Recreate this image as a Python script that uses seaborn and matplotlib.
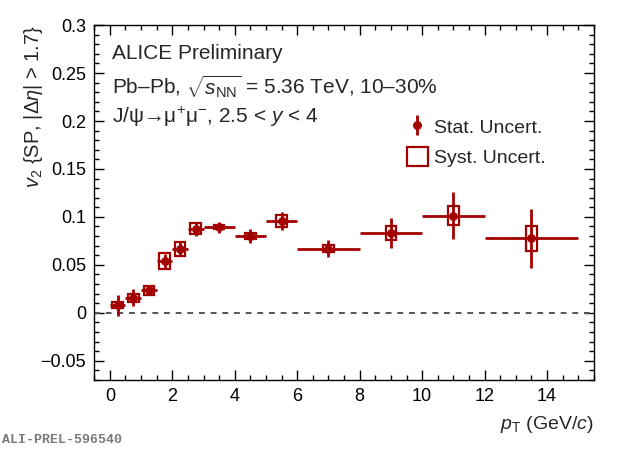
import numpy as np
import pandas as pd
import matplotlib
matplotlib.use("Agg")
import matplotlib.pyplot as plt
import seaborn as sns
from matplotlib.lines import Line2D
from matplotlib.patches import Patch
from matplotlib.legend_handler import HandlerTuple
from matplotlib.ticker import MultipleLocator

# ---- data ----
pt_center = [0.25, 0.75, 1.25, 1.75, 2.25, 2.75, 3.5, 4.5, 5.5, 7.0, 9.0, 11.0, 13.5]
pt_halfwidth = [0.25, 0.25, 0.25, 0.25, 0.25, 0.25, 0.5, 0.5, 0.5, 1.0, 1.0, 1.0, 1.5]
v2 = [0.0077, 0.0157, 0.0234, 0.054, 0.0664, 0.0877, 0.0894, 0.080, 0.0957,
      0.067, 0.0835, 0.1013, 0.0776]
stat_err = [0.011, 0.009, 0.005, 0.007, 0.0072, 0.0073, 0.0057, 0.0073, 0.0092,
            0.0088, 0.0156, 0.0248, 0.0306]
syst_err = [0.003, 0.004, 0.005, 0.008, 0.0076, 0.0056, 0.002, 0.003, 0.006,
            0.0033, 0.0073, 0.0096, 0.013]

x_ticks = [0, 2, 4, 6, 8, 10, 12, 14]
y_ticks = [-0.05, 0, 0.05, 0.1, 0.15, 0.2, 0.25, 0.3]
y_tick_labels = ["\u22120.05", "0", "0.05", "0.1", "0.15", "0.2", "0.25", "0.3"]

df = pd.DataFrame({"pt": pt_center, "v2": v2, "dx": pt_halfwidth,
                   "stat": stat_err, "syst": syst_err})

sns.set_theme(style="ticks")
plt.rcParams["font.family"] = ["Liberation Sans", "DejaVu Sans"]
plt.rcParams["mathtext.fontset"] = "custom"
plt.rcParams["mathtext.rm"] = "Liberation Sans"
plt.rcParams["mathtext.it"] = "Liberation Sans:italic"
plt.rcParams["mathtext.bf"] = "Liberation Sans:bold"

RED = "#a30000"

fig = plt.figure(figsize=(6.2, 4.49), dpi=100)
ax = fig.add_axes([0.152, 0.154, 0.806, 0.79])

# zero line
ax.axhline(0, color="#555555", lw=1.4, ls=(0, (3, 3)), zorder=1)

# systematic boxes
ax.bar(df["pt"], 2 * df["syst"], bottom=df["v2"] - df["syst"], width=0.34,
       fill=False, edgecolor=RED, linewidth=1.6, zorder=3)

# statistical error bars
ax.errorbar(df["pt"], df["v2"], xerr=df["dx"], yerr=df["stat"], fmt="none",
            ecolor=RED, elinewidth=2.0, capsize=0, zorder=4)

# points
sns.scatterplot(data=df, x="pt", y="v2", ax=ax, color=RED, s=40,
                edgecolor=RED, linewidth=0, zorder=5, legend=False)

ax.set_xlim(-0.5, 15.5)
ax.set_ylim(-0.07, 0.3)
ax.set_xticks(x_ticks)
ax.set_xticklabels([str(t) for t in x_ticks])
ax.set_yticks(y_ticks)
ax.set_yticklabels(y_tick_labels)
ax.xaxis.set_minor_locator(MultipleLocator(0.5))
ax.yaxis.set_minor_locator(MultipleLocator(0.01))
ax.tick_params(which="both", direction="in", top=True, right=True,
               labelsize=13, colors="black", width=1.0)
ax.tick_params(which="major", length=7.5, pad=6)
ax.tick_params(which="minor", length=3.8)
for s in ax.spines.values():
    s.set_linewidth(1.0)
    s.set_color("black")

ax.set_xlabel(r"$p_{\mathrm{T}}$ (GeV/$c$)", fontsize=14, loc="right", labelpad=6)
ax.set_ylabel(r"$v_{2}$ {SP, |$\Delta\eta$| > 1.7}", fontsize=14.5, loc="top")
ax.yaxis.set_label_coords(-0.098, 1.0)

# annotations
TX = 0.036
ax.text(TX, 0.92, "ALICE Preliminary", transform=ax.transAxes, fontsize=15,
        va="center", ha="left")
ax.text(TX, 0.828, r"Pb–Pb, $\sqrt{s_{\mathrm{NN}}}$ = 5.36 TeV, 10–30%",
        transform=ax.transAxes, fontsize=15, va="center", ha="left")
ax.text(TX, 0.74, "J/ψ→μ$^{+}$μ$^{-}$, 2.5 < $y$ < 4",
        transform=ax.transAxes, fontsize=15, va="center", ha="left")

# legend
stat_handle = (Line2D([], [], color=RED, marker="|", markersize=15, markeredgewidth=2,
                      linestyle="none"),
               Line2D([], [], color=RED, marker="o", markersize=5.5, linestyle="none"))
syst_handle = Patch(facecolor="none", edgecolor=RED, linewidth=1.6)
leg = ax.legend([stat_handle, syst_handle], ["Stat. Uncert.", "Syst. Uncert."],
                handler_map={tuple: HandlerTuple(ndivide=1, pad=0)},
                loc="upper left", bbox_to_anchor=(0.625, 0.742), borderaxespad=0,
                borderpad=0, frameon=False, fontsize=14, handlelength=1.1,
                handleheight=1.1, handletextpad=0.3, labelspacing=0.55)

fig.text(0.004, 0.006, "ALI-PREL-596540", fontsize=9.5, color="#7a7a7a",
         family=["Liberation Mono", "DejaVu Sans Mono"], fontweight="bold",
         ha="left", va="bottom")

fig.savefig("out.png", dpi=100)
